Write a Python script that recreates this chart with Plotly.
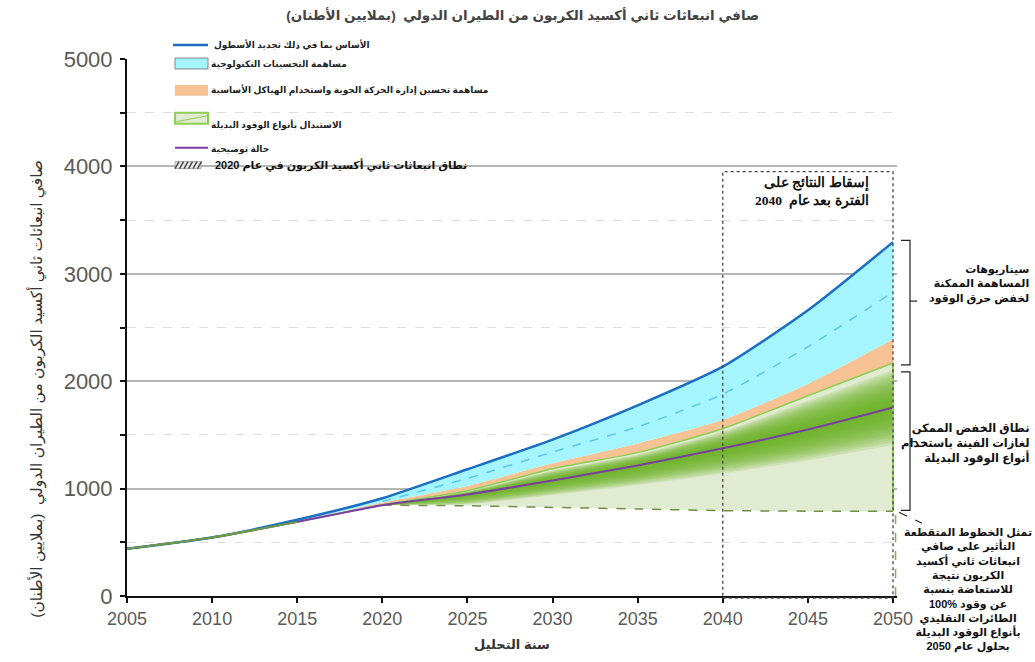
import plotly.graph_objects as go

# ---------------- data ----------------
years = [2005, 2010, 2015, 2020, 2025, 2030, 2035, 2040, 2045, 2050]
baseline = [440, 545, 710, 910, 1180, 1456, 1775, 2135, 2660, 3295]
tech_mid = [440, 545, 700, 880, 1095, 1340, 1575, 1880, 2320, 2830]
atm_top = [440, 545, 695, 870, 1025, 1235, 1420, 1640, 1975, 2390]
fuel_top = [440, 545, 690, 850, 980, 1185, 1335, 1558, 1865, 2170]
illustrative = [440, 545, 690, 845, 945, 1076, 1215, 1375, 1550, 1755]
saf_100 = [440, 545, 690, 845, 840, 825, 810, 795, 790, 790]

x_ticks = [2005, 2010, 2015, 2020, 2025, 2030, 2035, 2040, 2045, 2050]

title_text = "صافي انبعاثات ثاني أكسيد الكربون من الطيران الدولي  (بملايين الأطنان)"
y_title = "صافي انبعاثات ثاني أكسيد الكربون من الطيران الدولي  (بملايين الأطنان)"
x_title = "سنة التحليل"
legend_labels = [
    "الأساس بما في ذلك تجديد الأسطول",
    "مساهمة التحسينات التكنولوجية",
    "مساهمة تحسين إدارة الحركة الجوية واستخدام الهياكل الأساسية",
    "الاستبدال بأنواع الوقود البديلة",
    "حالة توضيحية",
    "نطاق انبعاثات ثاني أكسيد الكربون في عام 2020",
]
box_text = "إسقاط النتائج على<br>الفترة بعد عام  2040"
note1 = "سيناريوهات<br>المساهمة الممكنة<br>لخفض حرق الوقود"
note2 = "نطاق الخفض الممكن<br>لغازات الفينة باستخدام<br>أنواع الوقود البديلة"
note3 = ("تمثل الخطوط المتقطعة<br>التأثير على صافي<br>انبعاثات ثاني أكسيد<br>الكربون نتيجة"
         "<br>للاستعاضة بنسبة<br>\u200e100% عن وقود<br>الطائرات التقليدي<br>بأنواع الوقود البديلة<br>بحلول عام 2050")

# ---------------- styles ----------------
BLUE = "#1b6ec2"
CYAN = "#a4f5fd"
CYAN_D = "#5cc8ee"
ORANGE = "#f7c294"
LGREEN = "#e1ebd2"
GREEN_L = "#8dcf55"
HIST = "#6f9c42"
PURPLE = "#7b3fa1"
OLIVE = "#6f8f46"
FONT = "Liberation Sans, DejaVu Sans, sans-serif"
SHAPE = "spline"
SMOOTH = 0.6

# plot area in pixels (for placing decorations)
L, R, T, B = 127, 897, 59, 598


def px(xp):
    return (xp - L) / (R - L)


def py(yp):
    return (B - yp) / (B - T)


fig = go.Figure()

# fills
fig.add_trace(go.Scatter(x=years, y=saf_100, mode="lines", line=dict(width=0, shape=SHAPE, smoothing=SMOOTH),
                         showlegend=False, hoverinfo="skip"))
fig.add_trace(go.Scatter(x=years, y=fuel_top, mode="lines", fill="tonexty", fillcolor=LGREEN,
                         line=dict(width=0, shape=SHAPE, smoothing=SMOOTH), showlegend=False, hoverinfo="skip"))
fig.add_trace(go.Scatter(x=years, y=atm_top, mode="lines", fill="tonexty", fillcolor=ORANGE,
                         line=dict(width=0, shape=SHAPE, smoothing=SMOOTH), showlegend=False, hoverinfo="skip"))
fig.add_trace(go.Scatter(x=years, y=baseline, mode="lines", fill="tonexty", fillcolor=CYAN,
                         line=dict(width=0, shape=SHAPE, smoothing=SMOOTH), showlegend=False, hoverinfo="skip"))

# soft dark-green band around the illustrative case (layered translucent fills)
start = years.index(2020)
gx = years[start:]
n_layers = 14
for k in range(n_layers):
    f = 1.0 - k / n_layers
    lo, hi = [], []
    for i in range(start, len(years)):
        p = illustrative[i]
        lo.append(max(saf_100[i], p - f * (0.3 * (p - saf_100[i]) + 60)))
        hi.append(min(fuel_top[i], p + f * 0.85 * (fuel_top[i] - p)))
    fig.add_trace(go.Scatter(x=gx, y=lo, mode="lines", line=dict(width=0, shape=SHAPE, smoothing=SMOOTH),
                             showlegend=False, hoverinfo="skip"))
    fig.add_trace(go.Scatter(x=gx, y=hi, mode="lines", fill="tonexty", fillcolor="rgba(104,178,38,0.17)",
                             line=dict(width=0, shape=SHAPE, smoothing=SMOOTH), showlegend=False, hoverinfo="skip"))

# lines
fig.add_trace(go.Scatter(x=years[start:], y=tech_mid[start:], mode="lines",
                         line=dict(color=CYAN_D, width=1.5, dash="dash", shape=SHAPE, smoothing=SMOOTH),
                         showlegend=False))
fig.add_trace(go.Scatter(x=years, y=fuel_top, mode="lines",
                         line=dict(color=GREEN_L, width=1.5, shape=SHAPE, smoothing=SMOOTH), showlegend=False))
fig.add_trace(go.Scatter(x=years[start:], y=saf_100[start:], mode="lines",
                         line=dict(color=OLIVE, width=1.5, dash="dash", shape=SHAPE, smoothing=SMOOTH),
                         showlegend=False))
fig.add_trace(go.Scatter(x=years, y=illustrative, mode="lines",
                         line=dict(color=PURPLE, width=2, shape=SHAPE, smoothing=SMOOTH), showlegend=False))
fig.add_trace(go.Scatter(x=years, y=baseline, mode="lines",
                         line=dict(color=BLUE, width=2.5, shape=SHAPE, smoothing=SMOOTH), showlegend=False))
# historic segment (common to all scenarios)
fig.add_trace(go.Scatter(x=years[:start], y=saf_100[:start], mode="lines",
                         line=dict(color=HIST, width=2, shape=SHAPE, smoothing=SMOOTH), showlegend=False))

shapes = []
annotations = []

# right edge of the alternative-fuel band at 2050
shapes.append(dict(type="line", xref="x", yref="y", x0=years[-1], x1=years[-1], y0=saf_100[-1], y1=fuel_top[-1],
                   line=dict(color=GREEN_L, width=2)))
shapes.append(dict(type="line", xref="x", yref="y", x0=years[-1] + 0.15, x1=years[-1] + 0.15, y0=0, y1=saf_100[-1],
                   line=dict(color="#7fb24a", width=1.5, dash="dash")))

# projection box 2040-2050
shapes.append(dict(type="rect", xref="x", yref="paper", x0=2040, x1=2050, y0=py(600), y1=py(172),
                   line=dict(color="#444", width=1.3, dash="dot"), fillcolor="rgba(0,0,0,0)"))
annotations.append(dict(xref="paper", yref="paper", x=px(871), y=py(192), xanchor="right", yanchor="middle",
                        text="<b>" + box_text + "</b>", showarrow=False, align="right",
                        font=dict(family="Liberation Serif, DejaVu Serif, serif", size=13.5, color="#111")))

# brackets on the right
def bracket(top, bottom, mid):
    shapes.append(dict(type="path", xref="paper", yref="paper",
                       path=f"M {px(901)} {py(top)} L {px(910)} {py(top)} L {px(910)} {py(bottom)} L {px(901)} {py(bottom)}",
                       line=dict(color="#222", width=1.2)))
    shapes.append(dict(type="line", xref="paper", yref="paper", x0=px(910), x1=px(917), y0=py(mid), y1=py(mid),
                       line=dict(color="#222", width=1.2)))


bracket(241, 366, 302)
bracket(373, 512, 443)
shapes.append(dict(type="line", xref="paper", yref="paper", x0=px(899), x1=px(922), y0=py(514), y1=py(525),
                   line=dict(color="#222", width=1.2, dash="dash")))

annotations.append(dict(xref="paper", yref="paper", x=px(1031), y=py(285), xanchor="right", yanchor="middle",
                        text="<b>" + note1 + "</b>", showarrow=False, align="right",
                        font=dict(family=FONT, size=11, color="#111")))
annotations.append(dict(xref="paper", yref="paper", x=px(1031), y=py(445), xanchor="right", yanchor="middle",
                        text="<b>" + note2 + "</b>", showarrow=False, align="right",
                        font=dict(family=FONT, size=11.5, color="#111")))
annotations.append(dict(xref="paper", yref="paper", x=px(968), y=py(591), xanchor="center", yanchor="middle",
                        text="<b>" + note3 + "</b>", showarrow=False, align="center",
                        font=dict(family=FONT, size=11, color="#111")))

# y-axis title (rotated)
annotations.append(dict(xref="paper", yref="paper", x=px(37), y=py(390), xanchor="center", yanchor="middle",
                        text=y_title, textangle=-90, showarrow=False,
                        font=dict(family=FONT, size=15.5, color="#333")))

# ---------------- manual legend ----------------
leg_font = dict(family=FONT, size=9, color="#222")
# 1 baseline line
shapes.append(dict(type="line", xref="paper", yref="paper", x0=px(173), x1=px(208), y0=py(45), y1=py(45),
                   line=dict(color=BLUE, width=2.5)))
annotations.append(dict(xref="paper", yref="paper", x=px(212), y=py(45), xanchor="left", yanchor="middle",
                        text="<b>" + legend_labels[0] + "</b>", showarrow=False, font=leg_font))
# 2 cyan box
shapes.append(dict(type="rect", xref="paper", yref="paper", x0=px(175), x1=px(208), y0=py(69), y1=py(58),
                   fillcolor=CYAN, line=dict(color="#888", width=1)))
annotations.append(dict(xref="paper", yref="paper", x=px(209), y=py(65), xanchor="left", yanchor="middle",
                        text="<b>" + legend_labels[1] + "</b>", showarrow=False, font=leg_font))
# 3 orange box
shapes.append(dict(type="rect", xref="paper", yref="paper", x0=px(175), x1=px(208), y0=py(96), y1=py(85),
                   fillcolor=ORANGE, line=dict(width=0)))
annotations.append(dict(xref="paper", yref="paper", x=px(209), y=py(90), xanchor="left", yanchor="middle",
                        text="<b>" + legend_labels[2] + "</b>", showarrow=False, font=leg_font))
# 4 green box with diagonal
shapes.append(dict(type="rect", xref="paper", yref="paper", x0=px(175), x1=px(208), y0=py(124), y1=py(113),
                   fillcolor=LGREEN, line=dict(color=GREEN_L, width=2)))
shapes.append(dict(type="line", xref="paper", yref="paper", x0=px(176), x1=px(207), y0=py(122), y1=py(116),
                   line=dict(color=GREEN_L, width=1)))
annotations.append(dict(xref="paper", yref="paper", x=px(209), y=py(125), xanchor="left", yanchor="middle",
                        text="<b>" + legend_labels[3] + "</b>", showarrow=False, font=leg_font))
# 5 purple line
shapes.append(dict(type="line", xref="paper", yref="paper", x0=px(175), x1=px(208), y0=py(148), y1=py(148),
                   line=dict(color=PURPLE, width=2)))
annotations.append(dict(xref="paper", yref="paper", x=px(209), y=py(150), xanchor="left", yanchor="middle",
                        text="<b>" + legend_labels[4] + "</b>", showarrow=False, font=leg_font))
# 6 hatched box
shapes.append(dict(type="rect", xref="paper", yref="paper", x0=px(175), x1=px(201), y0=py(169), y1=py(162),
                   fillcolor="#e8e8e8", line=dict(color="#999", width=0.8)))
for k in range(6):
    xa = 175 + k * 4.5
    shapes.append(dict(type="line", xref="paper", yref="paper", x0=px(xa), x1=px(xa + 4), y0=py(169), y1=py(162),
                       line=dict(color="#444", width=1.4)))
annotations.append(dict(xref="paper", yref="paper", x=px(213), y=py(165), xanchor="left", yanchor="middle",
                        text="<b>" + legend_labels[5] + "</b>", showarrow=False,
                        font=dict(family=FONT, size=11, color="#111")))

fig.update_layout(
    width=1035, height=662,
    margin=dict(l=L, r=1035 - R, t=T, b=662 - B),
    paper_bgcolor="white", plot_bgcolor="white",
    title=dict(text="<b>" + title_text + "</b>", x=0.505, xanchor="center", y=1 - 15 / 662, yanchor="middle",
               font=dict(family=FONT, size=13.5, color="#444")),
    showlegend=False,
    shapes=shapes, annotations=annotations,
    xaxis=dict(range=[2005, 2005 + (R - L) / ((893 - 127) / 45)], tickvals=x_ticks, showgrid=False, zeroline=False,
               showline=True, linecolor="#111", linewidth=2, ticks="outside", ticklen=5, tickwidth=2,
               tickcolor="#111", tickfont=dict(family=FONT, size=18, color="#5a5a5a"),
               title=dict(text="<b>" + x_title + "</b>", font=dict(family=FONT, size=13, color="#333"), standoff=12)),
    yaxis=dict(range=[0, 5000], dtick=1000, showgrid=True, gridcolor="#b5b5b5", gridwidth=1.5, zeroline=False,
               showline=True, linecolor="#111", linewidth=2, ticks="outside", ticklen=5, tickwidth=2,
               tickcolor="#111", tickfont=dict(family=FONT, size=22, color="#5a5a5a"), ticklabelstandoff=3,
               minor=dict(dtick=500, showgrid=True, gridcolor="#dedede", griddash="dash", gridwidth=1,
                          ticks="outside", ticklen=5, tickcolor="#111")),
)

fig.write_html("out.html")
